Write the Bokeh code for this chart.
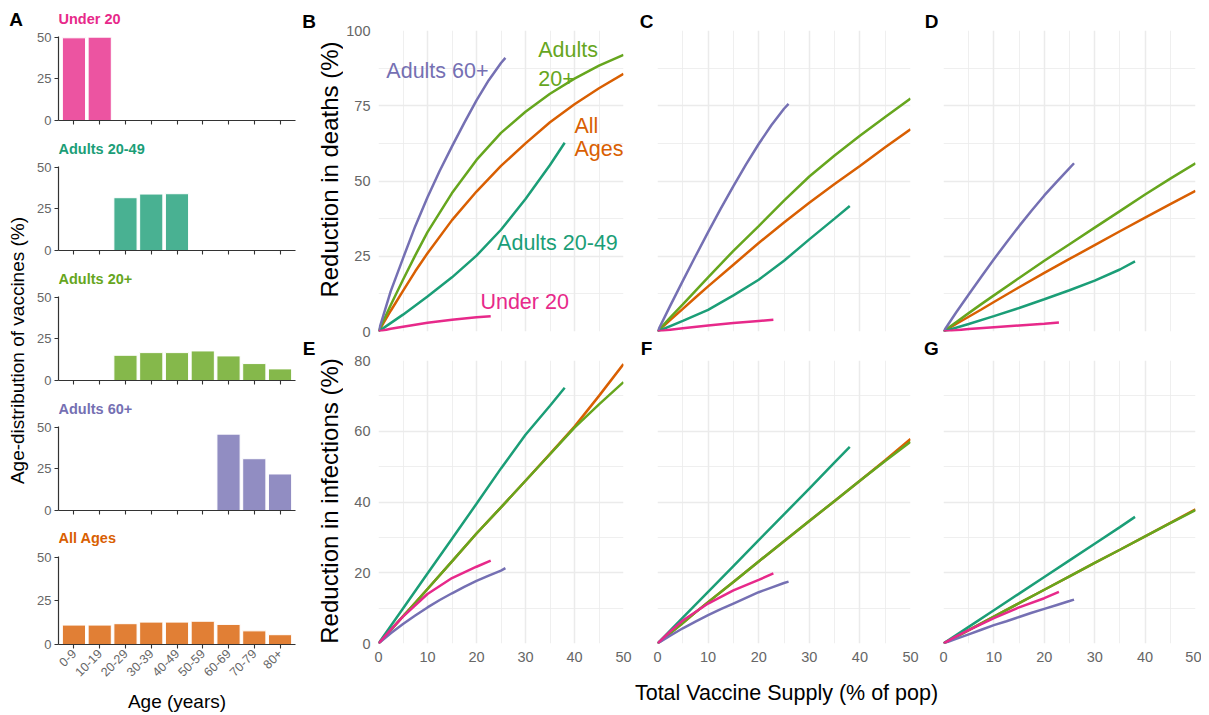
import math
from bokeh.plotting import figure
from bokeh.models import Range1d, FixedTicker, Label
from bokeh.layouts import row, column
from bokeh.embed import file_html
from bokeh.resources import INLINE

# ---------------- data ----------------
strategies = ["Under 20", "Adults 20-49", "Adults 20+", "Adults 60+", "All Ages"]
colors = ["#E7298A", "#1B9E77", "#66A61E", "#7570B3", "#D95F02"]

age_groups = ["0-9", "10-19", "20-29", "30-39", "40-49", "50-59", "60-69", "70-79", "80+"]
dist_under20 = [49.8, 50.2, 0, 0, 0, 0, 0, 0, 0]
dist_adults2049 = [0, 0, 31.8, 34.0, 34.2, 0, 0, 0, 0]
dist_adults20p = [0, 0, 15.2, 16.8, 16.8, 17.8, 14.8, 10.2, 7.0]
dist_adults60p = [0, 0, 0, 0, 0, 0, 46.0, 31.2, 22.0]
dist_all = [11.1, 11.1, 11.9, 12.8, 12.8, 13.3, 11.5, 7.8, 5.6]

# vaccine supply (% of pop) sample points per strategy
supply_u20 = [0, 2.5, 5, 10, 15, 20, 22.9]
supply_a2049 = [0, 5, 10, 15, 20, 25, 30, 35, 38]
supply_a20p = [0, 2.5, 5, 7.5, 10, 15, 20, 25, 30, 35, 40, 45, 50]
supply_a60 = [0, 2.5, 5, 7.5, 10, 12.5, 15, 17.5, 20, 22.5, 25, 25.9]
supply_all = [0, 2.5, 5, 7.5, 10, 15, 20, 25, 30, 35, 40, 45, 50]

# reduction in deaths (%)
B_u20 = [0, 0.9, 1.6, 2.9, 3.9, 4.7, 5.1]
B_a2049 = [0, 5.6, 11.6, 18, 25.2, 33.8, 44, 55.3, 62.7]
B_a20p = [0, 8.8, 17.2, 25.3, 33, 46, 57, 66, 73, 79, 84, 88.3, 91.9]
B_a60 = [0, 13.4, 24.3, 35, 44.6, 53.4, 61.5, 69.3, 76.8, 83.5, 89.2, 90.9]
B_all = [0, 6.9, 13.5, 20, 26, 37, 46.5, 55, 62.5, 69.5, 75.5, 80.8, 85.6]

C_u20 = [0, 0.6, 1.1, 2.0, 2.8, 3.5, 3.9]
C_a2049 = [0, 3.5, 7.2, 12, 17.2, 23.5, 30.6, 37.5, 41.7]
C_a20p = [0, 4.6, 9, 13.5, 18, 26.8, 35, 43.5, 51.5, 58.5, 65, 71.3, 77.4]
C_a60 = [0, 8.5, 16.8, 25, 33, 40.8, 48.3, 55.5, 62.3, 68.5, 74, 75.6]
C_all = [0, 3.8, 7.5, 11.3, 15, 22.2, 29.4, 36.2, 42.8, 49, 55, 61.2, 67.2]

D_u20 = [0, 0.4, 0.8, 1.4, 2.0, 2.6, 3.0]
D_a2049 = [0, 2.5, 5.1, 7.8, 10.7, 13.7, 16.9, 20.6, 23.3]
D_a20p = [0, 3.1, 6.1, 9.1, 12, 17.8, 23.5, 29, 34.5, 40, 45.5, 50.8, 55.9]
D_a60 = [0, 6.3, 12.3, 18.2, 24, 29.6, 35, 40.2, 45.2, 49.8, 54.3, 55.9]
D_all = [0, 2.5, 4.9, 7.3, 9.8, 14.7, 19.5, 24.1, 28.7, 33.3, 37.8, 42.3, 46.7]

# reduction in infections (%)
E_u20 = [0, 3.9, 7.6, 14, 18.5, 21.7, 23.4]
E_a2049 = [0, 9.9, 19.8, 29.6, 39.5, 49.5, 59, 67.2, 72.3]
E_a20p = [0, 3.8, 7.7, 11.5, 15.4, 23.2, 31.1, 38.5, 46, 53.5, 61, 67.6, 73.9]
E_a60 = [0, 2.9, 5.5, 7.9, 10.2, 12.3, 14.2, 16, 17.7, 19.2, 20.6, 21.3]
E_all = [0, 3.8, 7.7, 11.5, 15.4, 23.2, 31.1, 38.5, 46, 53.6, 61.3, 70, 79]

F_u20 = [0, 3.4, 6.5, 11.3, 15, 18, 19.8]
F_a2049 = [0, 7.3, 14.6, 21.9, 29.2, 36.5, 43.8, 51.2, 55.6]
F_a20p = [0, 2.9, 5.8, 8.8, 11.7, 17.4, 23.2, 28.9, 34.6, 40.3, 46, 51.6, 57.0]
F_a60 = [0, 2.2, 4.3, 6.2, 8, 9.7, 11.3, 12.9, 14.5, 15.8, 17.1, 17.5]
F_all = [0, 2.9, 5.8, 8.8, 11.7, 17.4, 23.2, 28.9, 34.6, 40.3, 46, 51.8, 57.8]

G_u20 = [0, 2.0, 3.8, 7.2, 10.2, 12.8, 14.6]
G_a2049 = [0, 4.7, 9.4, 14.1, 18.8, 23.5, 28.2, 32.9, 35.8]
G_a20p = [0, 1.9, 3.8, 5.7, 7.6, 11.4, 15.2, 19, 22.8, 26.5, 30.3, 34, 37.7]
G_a60 = [0, 1.3, 2.6, 3.9, 5.2, 6.3, 7.5, 8.7, 9.8, 10.9, 12, 12.4]
G_all = [0, 1.9, 3.8, 5.7, 7.6, 11.4, 15.2, 19, 22.8, 26.5, 30.3, 34.1, 37.9]

x_ticks = [0, 10, 20, 30, 40, 50]
death_ticks = [0, 25, 50, 75, 100]
inf_ticks = [0, 20, 40, 60, 80]
dist_ticks = [0, 25, 50]
DIST_MAX = 50.6

FONT = "Liberation Sans"
TICK_COL = "#666666"
GRID_COL = "#EBEBEB"


def blank(w, h):
    """An empty helper canvas whose data units are pixels (y up)."""
    p = figure(width=w, height=h, x_range=Range1d(0, w), y_range=Range1d(0, h),
               output_backend="svg", toolbar_location=None, min_border=0)
    p.axis.visible = False
    p.grid.visible = False
    p.outline_line_color = None
    p.background_fill_color = None
    p.border_fill_color = None
    p.scatter([0], [0], size=0, alpha=0)
    return p


def txt(p, text, x, y, size, color="black", bold=False, align="left", angle=0):
    p.add_layout(Label(x=x, y=y, text=text, text_font=FONT, text_font_size=f"{size}px",
                       text_color=color, text_font_style="bold" if bold else "normal",
                       text_align=align, text_baseline="middle", angle=angle))


# ---------------- left block (A) ----------------
TOTAL_H = 715
strip = blank(34, TOTAL_H)
txt(strip, "A", 15.5, TOTAL_H - 18.5, 19, bold=True, align="center")
txt(strip, "Age-distribution of vaccines (%)", 17, TOTAL_H - 350, 19, align="center",
    angle=math.pi / 2)

dists = [dist_under20, dist_adults2049, dist_adults20p, dist_adults60p, dist_all]
# (figure height, bottom border, pixel height of the 0..DIST_MAX bar area, title px below figure top)
bar_geom = [(138, 18, 84, 18), (130, 18, 84, 10), (130, 18, 84, 10), (130, 18, 84, 10), (187, 69, 90, 10)]
bar_figs = []
for i, (name, col, vals) in enumerate(zip(strategies, colors, dists)):
    last = i == len(strategies) - 1
    h, bb, bar_px, title_dy = bar_geom[i]
    frame_h = h - bb
    per_px = DIST_MAX / bar_px
    ymax = frame_h * per_px
    p = figure(width=266, height=h, x_range=Range1d(0.4, 9.6), y_range=Range1d(0, ymax),
               output_backend="svg", toolbar_location=None,
               min_border_left=24, min_border_right=5, min_border_top=0, min_border_bottom=bb)
    xs = [j + 1 for j, v in enumerate(vals) if v > 0]
    ys = [v for v in vals if v > 0]
    p.vbar(x=xs, top=ys, bottom=0, width=0.9, fill_color=col, fill_alpha=0.8,
           line_color="white", line_width=1)
    p.grid.visible = False
    p.outline_line_color = None
    p.xaxis.ticker = FixedTicker(ticks=list(range(1, len(age_groups) + 1)))
    p.yaxis.ticker = FixedTicker(ticks=dist_ticks)
    p.yaxis.bounds = (0, DIST_MAX)
    for ax in (p.xaxis[0], p.yaxis[0]):
        ax.axis_line_color = "#333333"
        ax.axis_line_width = 1.2
        ax.major_tick_line_color = "#333333"
        ax.major_tick_line_width = 1.1
        ax.major_tick_out = 4
        ax.major_tick_in = 0
        ax.minor_tick_line_color = None
        ax.minor_tick_out = 0
        ax.minor_tick_in = 0
        ax.major_label_text_font = FONT
        ax.major_label_text_color = TICK_COL
        ax.major_label_standoff = 3
    p.yaxis.major_label_text_font_size = "13px"
    if last:
        p.xaxis.major_label_overrides = {j + 1: g for j, g in enumerate(age_groups)}
        p.xaxis.major_label_orientation = math.pi / 4
        p.xaxis.major_label_text_font_size = "12.5px"
        p.xaxis.axis_label = "Age (years)"
        p.xaxis.axis_label_text_font = FONT
        p.xaxis.axis_label_text_font_size = "19px"
        p.xaxis.axis_label_text_font_style = "normal"
        p.xaxis.axis_label_text_color = "black"
        p.xaxis.axis_label_standoff = 8
    else:
        p.xaxis.major_label_overrides = {j + 1: "" for j in range(len(age_groups))}
        p.xaxis.major_label_text_font_size = "0px"
        p.xaxis.major_label_standoff = 0
    # panel title, drawn inside the (taller) frame above the bars
    p.add_layout(Label(x=0.4, y=ymax - title_dy * per_px, text=name, text_font=FONT,
                       text_font_size="14.5px", text_font_style="bold", text_color=col,
                       text_align="left", text_baseline="middle"))
    bar_figs.append(p)

left_block = row(strip, column(*bar_figs))

# ---------------- right block ----------------
supplies = [supply_u20, supply_a2049, supply_a20p, supply_a60, supply_all]
draw_order = [4, 2, 1, 3, 0]
panels = {
    "B": [B_u20, B_a2049, B_a20p, B_a60, B_all],
    "C": [C_u20, C_a2049, C_a20p, C_a60, C_all],
    "D": [D_u20, D_a2049, D_a20p, D_a60, D_all],
    "E": [E_u20, E_a2049, E_a20p, E_a60, E_all],
    "F": [F_u20, F_a2049, F_a20p, F_a60, F_all],
    "G": [G_u20, G_a2049, G_a20p, G_a60, G_all],
}

col_width = [295, 267, 263]
col_left = [35, 4, 5]
col_right = [15, 10, 6]
TOP_H, BOT_H = 339, 334


def line_fig(letter, ci, top_row):
    if top_row:
        h, tb, bb, ymax, yt = TOP_H, 30, 8, 100, death_ticks
    else:
        h, tb, bb, ymax, yt = BOT_H, 21, 30, 80, inf_ticks
    p = figure(width=col_width[ci], height=h, x_range=Range1d(0, 50), y_range=Range1d(0, ymax),
               output_backend="svg", toolbar_location=None,
               min_border_left=col_left[ci], min_border_right=col_right[ci],
               min_border_top=tb, min_border_bottom=bb)
    p.outline_line_color = None
    step = yt[1] - yt[0]
    p.xaxis.ticker = FixedTicker(ticks=x_ticks)
    p.yaxis.ticker = FixedTicker(ticks=yt)
    p.xgrid.ticker = FixedTicker(ticks=x_ticks, minor_ticks=[t + 5 for t in x_ticks[:-1]])
    p.ygrid.ticker = FixedTicker(ticks=yt, minor_ticks=[t + step / 2 for t in yt[:-1]])
    for g in (p.xgrid[0], p.ygrid[0]):
        g.grid_line_color = GRID_COL
        g.grid_line_width = 1.5
        g.minor_grid_line_color = GRID_COL
        g.minor_grid_line_width = 0.8
    for ax in (p.xaxis[0], p.yaxis[0]):
        ax.axis_line_color = None
        ax.major_tick_line_color = None
        ax.minor_tick_line_color = None
        ax.major_tick_out = 0
        ax.major_tick_in = 0
        ax.minor_tick_out = 0
        ax.minor_tick_in = 0
        ax.major_label_text_font = FONT
        ax.major_label_text_font_size = "14.5px"
        ax.major_label_text_color = TICK_COL
    p.xaxis.major_label_standoff = 8
    p.yaxis.major_label_standoff = 8
    if top_row:
        p.xaxis.visible = False
    if ci != 0:
        p.yaxis.visible = False
    ys_all = panels[letter]
    for k in draw_order:
        p.line(supplies[k], ys_all[k], line_color=colors[k], line_width=2.5)
    return p


pB, pC, pD = line_fig("B", 0, True), line_fig("C", 1, True), line_fig("D", 2, True)
pE, pF, pG = line_fig("E", 0, False), line_fig("F", 1, False), line_fig("G", 2, False)

# strategy labels in panel B
b_labels = [
    ("Adults 60+", 1.6, 86.7, colors[3]),
    ("Adults", 32.6, 93.4, colors[2]),
    ("20+", 32.6, 83.9, colors[2]),
    ("All", 40.0, 68.4, colors[4]),
    ("Ages", 40.0, 60.7, colors[4]),
    ("Adults 20-49", 24.2, 29.5, colors[1]),
    ("Under 20", 20.8, 9.7, colors[0]),
]
for t, x, y, c in b_labels:
    pB.add_layout(Label(x=x, y=y, text=t, text_font=FONT, text_font_size="21.5px",
                        text_color=c, text_align="left", text_baseline="middle"))

ROWS_H = TOP_H + BOT_H
strip1, strip2, strip3 = blank(43, ROWS_H), blank(15, ROWS_H), blank(18, ROWS_H)
for s, (top_l, bot_l), cx in ((strip1, ("B", "E"), 8.5), (strip2, ("C", "F"), 8), (strip3, ("D", "G"), 11)):
    txt(s, top_l, cx, ROWS_H - 21, 19, bold=True, align="center")
    txt(s, bot_l, cx, ROWS_H - 347.5, 19, bold=True, align="center")
# y-axis titles of the right panels
txt(strip1, "Reduction in deaths (%)", 29, ROWS_H - 169, 24, align="center", angle=math.pi / 2)
txt(strip1, "Reduction in infections (%)", 29, ROWS_H - 500.5, 24, align="center", angle=math.pi / 2)

panels_row = row(strip1, column(pB, pE), strip2, column(pC, pF), strip3, column(pD, pG))

title_fig = blank(901, TOTAL_H - ROWS_H)
txt(title_fig, "Total Vaccine Supply (% of pop)", 486, (TOTAL_H - ROWS_H) - 19, 21.5, align="center")

right_block = column(panels_row, title_fig)
layout = row(left_block, right_block)

open("out.html", "w").write(file_html(layout, INLINE))
